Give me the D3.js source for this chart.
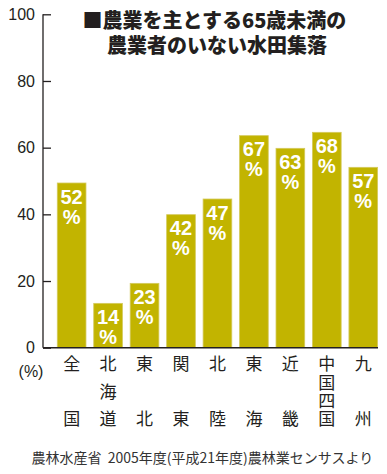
<!DOCTYPE html>
<html>
<head>
<meta charset="utf-8">
<script src="https://cdn.jsdelivr.net/npm/d3@7"></script>
<style>
  body { margin: 0; background: #fff; }
  svg { display: block; }
</style>
</head>
<body>
<div id="chart"></div>
<script>
const regions = ['全国', '北海道', '東北', '関東', '北陸', '東海', '近畿', '中国四国', '九州']
const barValues = [49.4, 13.3, 19.3, 39.9, 44.6, 63.6, 59.8, 64.6, 54.1]
const barLabels = ['52', '14', '23', '42', '47', '67', '63', '68', '57']
const yTicks = [0, 20, 40, 60, 80, 100]
const titleLines = ['■農業を主とする65歳未満の', '農業者のいない水田集落']
const sourceText = '農林水産省\u00a0 2005年度(平成21年度)農林業センサスより'

const width = 387
const height = 474
const barColor = '#c2b400'
const inkColor = '#231f20'
const jpFont = '"Noto Sans CJK JP", sans-serif'
const numFont = '"Liberation Sans", Arial, sans-serif'

const svg = d3
  .select('#chart')
  .append('svg')
  .attr('width', width)
  .attr('height', height)

const axisLeftX = 43
const axisRightX = 378

const yScale = d3.scaleLinear().domain([0, 100]).range([347.7, 14.3])

const xScale = d3
  .scaleBand()
  .domain(regions)
  .range([53.4, 381.5])
  .paddingInner(0.213)
  .paddingOuter(0.1065)

// title, two lines in one text
svg
  .append('text')
  .attr('text-anchor', 'middle')
  .attr('font-family', jpFont)
  .attr('font-weight', 900)
  .attr('font-size', 20)
  .attr('fill', inkColor)
  .selectAll('tspan')
  .data(titleLines)
  .join('tspan')
  .attr('x', (d, i) => (i === 0 ? 214.5 : 217))
  .attr('y', (d, i) => 28 + i * 25)
  .text(d => d)

// y axis
const yAxis = d3
  .axisLeft(yScale)
  .tickValues(yTicks)
  .tickSize(8)
  .tickPadding(7)

const yAxisG = svg
  .append('g')
  .attr('transform', `translate(${axisLeftX + 8}, 0)`)
  .call(yAxis)

yAxisG.select('.domain').remove()
yAxisG.selectAll('.tick line').attr('stroke', inkColor).attr('stroke-width', 1.3)
yAxisG
  .selectAll('.tick text')
  .attr('x', -16)
  .attr('font-family', numFont)
  .attr('font-size', 16)
  .attr('fill', inkColor)

svg
  .append('line')
  .attr('x1', axisLeftX)
  .attr('x2', axisLeftX)
  .attr('y1', yScale(100))
  .attr('y2', yScale(0))
  .attr('stroke', inkColor)
  .attr('stroke-width', 1.3)

// bars
svg
  .append('g')
  .selectAll('rect')
  .data(barValues)
  .join('rect')
  .attr('x', (d, i) => xScale(regions[i]))
  .attr('y', d => yScale(d))
  .attr('width', xScale.bandwidth())
  .attr('height', d => yScale(0) - yScale(d))
  .attr('fill', barColor)
  .attr('stroke', '#d4ca5c')
  .attr('stroke-width', 0.8)

// bar value labels
const labelG = svg.append('g').attr('fill', '#fff')

barValues.forEach((v, i) => {
  const cx = xScale(regions[i]) + xScale.bandwidth() / 2
  const top = yScale(v)
  const label = labelG
    .append('text')
    .attr('text-anchor', 'middle')
    .attr('font-family', numFont)
    .attr('font-weight', 'bold')
    .attr('font-size', 20)
  label.append('tspan').attr('x', cx).attr('y', top + 20.5).text(barLabels[i])
  label.append('tspan').attr('x', cx).attr('y', top + 40.5).text('%')
})

// x axis line
svg
  .append('line')
  .attr('x1', axisLeftX)
  .attr('x2', axisRightX)
  .attr('y1', yScale(0))
  .attr('y2', yScale(0))
  .attr('stroke', inkColor)
  .attr('stroke-width', 1.5)

// category labels, written vertically: first char on top, last char on the bottom row
const labelFontSize = 17
const labelTop = 355.5
const labelSpan = 55
svg
  .append('g')
  .selectAll('text')
  .data(regions)
  .join('text')
  .attr('x', d => xScale(d) + xScale.bandwidth() / 2)
  .attr('y', labelTop)
  .attr('writing-mode', 'vertical-rl')
  .attr('letter-spacing', d => {
    const n = Array.from(d).length
    const gap = n === 4 ? 18.3 : labelSpan / (n - 1)
    return gap - labelFontSize
  })
  .attr('font-family', jpFont)
  .attr('font-weight', 400)
  .attr('font-size', labelFontSize)
  .attr('fill', inkColor)
  .text(d => d)

// unit label
svg
  .append('text')
  .attr('x', 31)
  .attr('y', 377)
  .attr('text-anchor', 'middle')
  .attr('font-family', numFont)
  .attr('font-size', 16)
  .attr('fill', inkColor)
  .text('(%)')

// source
svg
  .append('text')
  .attr('x', 31.5)
  .attr('y', 463)
  .attr('font-family', jpFont)
  .attr('font-weight', 400)
  .attr('font-size', 14)
  .attr('fill', '#333')
  .text(sourceText)
</script>
</body>
</html>
